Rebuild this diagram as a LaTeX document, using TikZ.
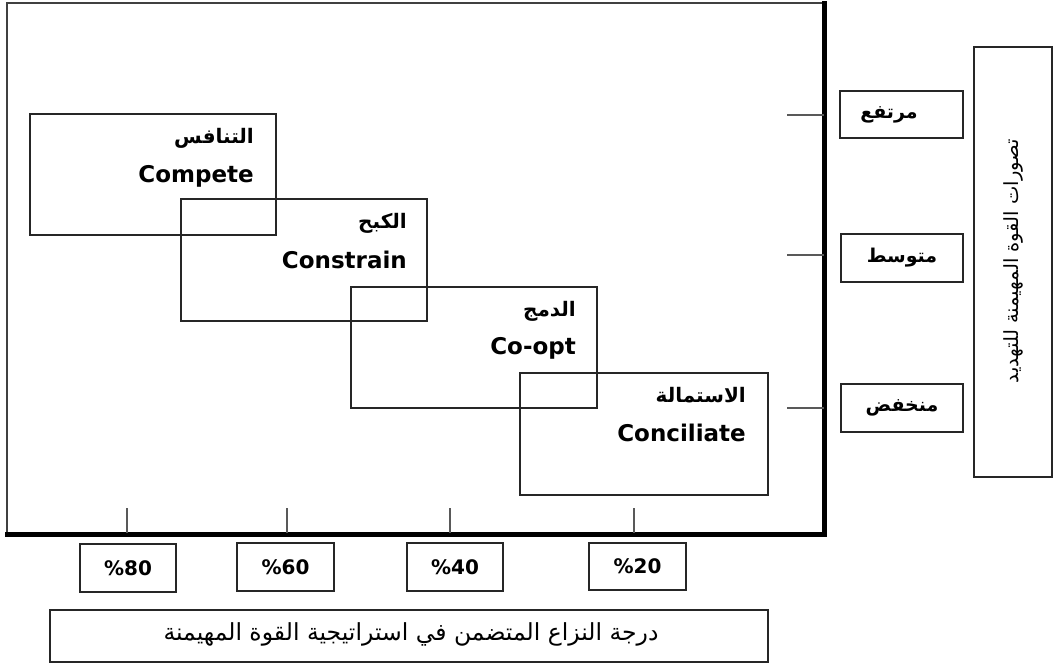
\documentclass[tikz,border=0pt]{standalone}
\usepackage{fontspec}
\setmainfont{DejaVu Sans}
\newfontfamily\arabicfont[Script=Arabic]{DejaVu Sans}
\TeXXeTstate=1
\begin{document}
\begin{tikzpicture}[x=1pt,y=-1pt,
  box/.style={draw=black!85,line width=1.3pt,inner sep=0pt,rectangle},
  tick/.style={draw=black!65,line width=1.3pt},
  en/.style={font=\fontsize{23}{26}\selectfont\bfseries,anchor=east,inner sep=0pt},
  ar/.style={font=\fontsize{20}{24}\selectfont\arabicfont\bfseries,anchor=east,inner sep=0pt},
  lvl/.style={font=\fontsize{19}{22}\selectfont\arabicfont\bfseries},
  pct/.style={font=\fontsize{20}{24}\selectfont\bfseries},
]
\useasboundingbox (0,0) rectangle (1054,666);
% frame
\draw[draw=black!75,line width=1.5pt] (7,535) -- (7,3) -- (826,3);
\draw[line width=5pt] (5,534) -- (824.5,534) -- (824.5,1);
% strategy boxes
\node[box,minimum width=246pt,minimum height=121pt] (compete) at (153,174.5) {};
\node[box,minimum width=246pt,minimum height=122pt] (constrain) at (304,260) {};
\node[box,minimum width=246pt,minimum height=121pt] (coopt) at (474,347.5) {};
\node[box,minimum width=248pt,minimum height=122pt] (conciliate) at (644,434) {};
\node[ar] (a1) at (254,138) {\beginR التنافس\endR};
\node[en] (e1) at (254,176) {Compete};
\node[ar] (a2) at (407,223) {\beginR الكبح\endR};
\node[en] (e2) at (407,260) {Constrain};
\node[ar] (a3) at (576,311) {\beginR الدمج\endR};
\node[en] (e3) at (576,348) {Co-opt};
\node[ar] (a4) at (746,395) {\beginR الاستمالة\endR};
\node[en] (e4) at (746,433) {Conciliate};
% right axis ticks
\draw[tick] (787,115) -- (824,115);
\draw[tick] (787,255) -- (824,255);
\draw[tick] (787,408) -- (824,408);
% level boxes
\node[box,minimum width=123pt,minimum height=47pt] (high) at (901.5,114.5) {};
\node[lvl] (hight) at (889,114.5) {\beginR مرتفع\endR};
\node[box,lvl,minimum width=122pt,minimum height=48pt] (mid) at (902,258) {\beginR متوسط\endR};
\node[box,lvl,minimum width=122pt,minimum height=48pt] (low) at (902,408) {\beginR منخفض\endR};
% vertical title
\node[box,minimum width=78pt,minimum height=430pt] (vt) at (1013,262) {};
\node[rotate=90,font=\fontsize{19.5}{22}\selectfont\arabicfont] (vtt) at (1013,261) {\beginR تصورات القوة المهيمنة للتهديد\endR};
% bottom ticks
\draw[tick] (127,508) -- (127,533);
\draw[tick] (287,508) -- (287,533);
\draw[tick] (450,508) -- (450,533);
\draw[tick] (634,508) -- (634,533);
% percent boxes
\node[box,pct,minimum width=96pt,minimum height=48pt] (p80) at (128,568) {\%80};
\node[box,pct,minimum width=97pt,minimum height=48pt] (p60) at (285.5,567) {\%60};
\node[box,pct,minimum width=96pt,minimum height=48pt] (p40) at (455,567) {\%40};
\node[box,pct,minimum width=97pt,minimum height=47pt] (p20) at (637.5,566.5) {\%20};
% bottom title
\node[box,minimum width=718pt,minimum height=52pt] (bt) at (409,636) {};
\node[font=\fontsize{23.5}{26}\selectfont\arabicfont] (btt) at (411,634) {\beginR درجة النزاع المتضمن في استراتيجية القوة المهيمنة\endR};
\end{tikzpicture}
\end{document}
